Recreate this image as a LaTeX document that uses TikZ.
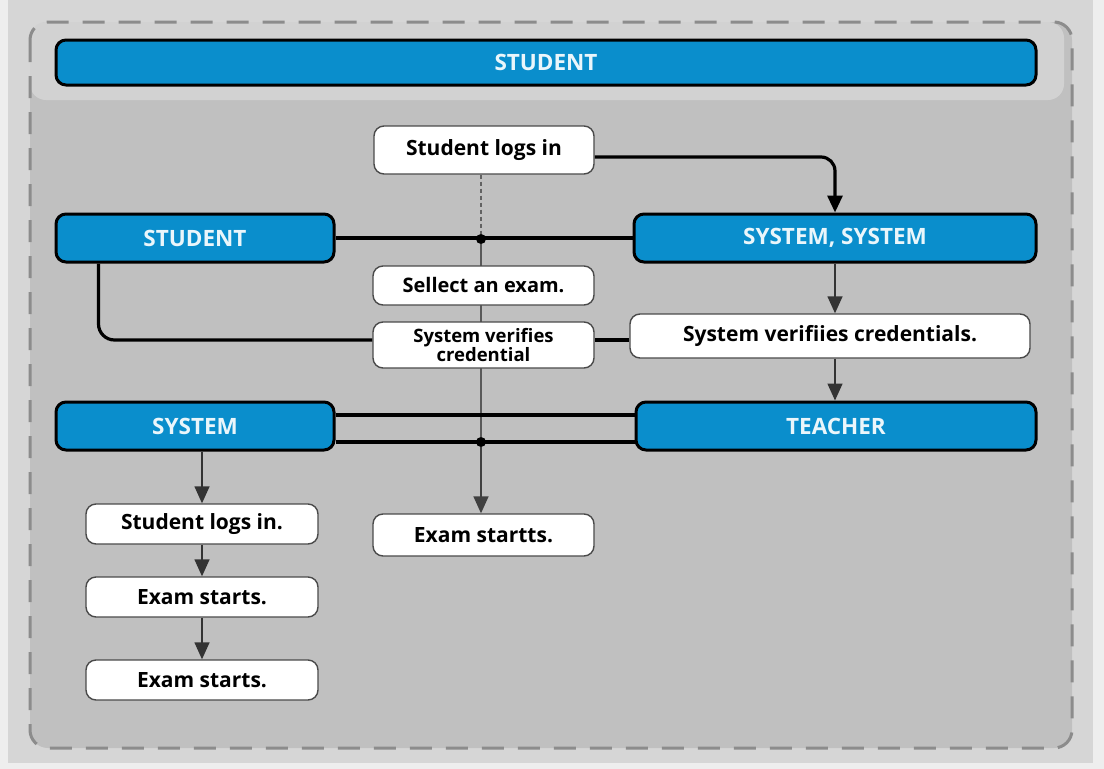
\documentclass[tikz,border=0pt]{standalone}
\usepackage{fontspec}
\setmainfont{Open Sans}
\usetikzlibrary{arrows.meta,calc}
\definecolor{pageWhite}{HTML}{EEEEEE}
\definecolor{outerGray}{HTML}{D6D6D6}
\definecolor{panelGray}{HTML}{C0C0C0}
\definecolor{headGray}{HTML}{D2D2D2}
\definecolor{dashGray}{HTML}{8C8C8C}
\definecolor{barBlue}{HTML}{0A8ECC}
\definecolor{labelWhite}{HTML}{EAF6FB}
\definecolor{boxEdge}{HTML}{4A4A4A}
\pgfdeclarelayer{back}
\pgfdeclarelayer{lines}
\pgfsetlayers{back,lines,main}
\tikzset{
  bluebar/.style={draw=black, line width=3pt, fill=barBlue, rounded corners=10pt,
    text=labelWhite, font=\fontsize{22.5}{24}\selectfont\bfseries, inner sep=0pt},
  whitebox/.style={draw=boxEdge, line width=1.4pt, fill=white, rounded corners=10pt,
    text=black, font=\fontsize{21}{22}\selectfont\bfseries, inner sep=0pt, align=center},
  heavyline/.style={draw=black, line width=3.2pt},
  thinline/.style={draw=black!80, line width=1.5pt},
  bigtip/.style={-{Triangle[width=15pt,length=17pt]}},
  dotmark/.style={circle, fill=black, inner sep=0pt, minimum size=10pt}
}
\begin{document}
\begin{tikzpicture}[x=1pt,y=-1pt]
\useasboundingbox (0,0) rectangle (1104,769);
\begin{pgfonlayer}{back}
  \fill[pageWhite] (0,0) rectangle (1104,769);
  \fill[outerGray] (8,0) rectangle (1093,763);
  \fill[panelGray, rounded corners=18pt] (30,22) rectangle (1072,748);
  \fill[headGray, rounded corners=16pt] (30,22) rectangle (1064,100);
  \draw[dashGray, line width=3pt, dash pattern=on 22pt off 14pt, rounded corners=18pt]
    (30,22) rectangle (1072,748);
\end{pgfonlayer}

% nodes
\node[bluebar, minimum width=980pt, minimum height=45pt] (head) at (546,62.5) {STUDENT};
\node[whitebox, minimum width=220pt, minimum height=48pt] (login) at (484,150) {Student logs in};
\node[bluebar, minimum width=278pt, minimum height=48pt] (stud) at (195,238) {STUDENT};
\node[bluebar, minimum width=402pt, minimum height=48pt] (sysys) at (835,238) {SYSTEM, SYSTEM};
\node[whitebox, minimum width=221pt, minimum height=39pt, font=\fontsize{20}{22}\selectfont\bfseries] (select) at (483.5,285.5) {Sellect an exam.};
\node[whitebox, minimum width=221pt, minimum height=46pt, font=\fontsize{18.5}{16}\selectfont\bfseries] (verA) at (483.5,345) {System verifies\\credential};
\node[whitebox, minimum width=400pt, minimum height=44pt] (verB) at (830,336) {System verifiies credentials.};
\node[bluebar, minimum width=278pt, minimum height=48pt] (syst) at (195,426) {SYSTEM};
\node[bluebar, minimum width=400pt, minimum height=48pt] (teach) at (836,426) {TEACHER};
\node[whitebox, minimum width=221pt, minimum height=42pt] (examC) at (483.5,535) {Exam startts.};
\node[whitebox, minimum width=232pt, minimum height=40pt] (logL) at (202,524) {Student logs in.};
\node[whitebox, minimum width=232pt, minimum height=40pt] (examA) at (202,597) {Exam starts.};
\node[whitebox, minimum width=232pt, minimum height=40pt] (examB) at (202,680) {Exam starts.};

\coordinate (dotA) at (481,239);
\coordinate (dotB) at (481,442);
\node[dotmark] (dA) at (dotA) {};
\node[dotmark] (dB) at (dotB) {};
\coordinate (vaW) at ([yshift=5pt]verA.west);
\coordinate (vaE) at ([yshift=5pt]verA.east);

\begin{pgfonlayer}{lines}
  % top login to SYSTEM, SYSTEM
  \draw[heavyline, bigtip, rounded corners=14pt] ([yshift=-7pt]login.east) -| (sysys.north);
  % dashed from login down to dot
  \draw[dashGray!70!black, line width=1.2pt, dash pattern=on 4pt off 3pt] (login.south -| dA) -- (dA);
  % STUDENT -- SYSTEM, SYSTEM
  \draw[heavyline] (stud.east) -- (sysys.west);
  % vertical through middle column
  \draw[draw=black!65, line width=1.6pt] (dA) -- (dB);
  \draw[draw=black!75, line width=1.6pt, bigtip] (dB) -- (examC.north -| dB);
  % STUDENT down to verifies credential
  \draw[heavyline, rounded corners=16pt] ([xshift=44pt]stud.south west) |- (vaW);
  \draw[heavyline] (vaE) -- (vaE -| verB.west);
  % right column arrows
  \draw[thinline, bigtip] (sysys.south) -- (sysys.south |- verB.north);
  \draw[thinline, bigtip] (sysys.south |- verB.south) -- (teach.north -| sysys.south);
  % SYSTEM -- TEACHER double line
  \draw[heavyline] ([yshift=11pt]syst.east) -- ([yshift=11pt]teach.west);
  \draw[heavyline] ([yshift=-16pt]syst.east) -- ([yshift=-16pt]teach.west);
  % left column arrows
  \draw[thinline, bigtip] (syst.south -| logL.north) -- (logL.north);
  \draw[thinline, bigtip] (logL.south) -- (examA.north);
  \draw[thinline, bigtip] (examA.south) -- (examB.north);
\end{pgfonlayer}
\end{tikzpicture}
\end{document}
